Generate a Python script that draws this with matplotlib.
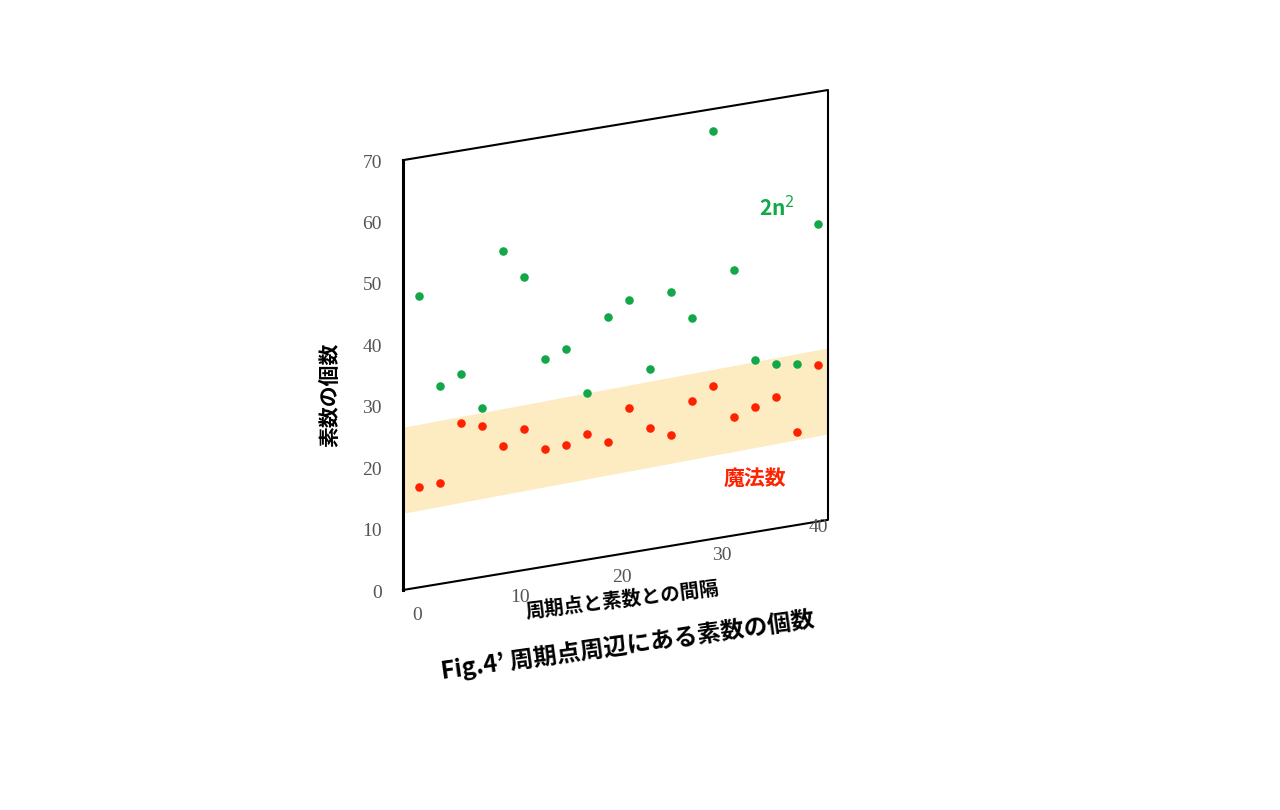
import matplotlib
matplotlib.use("Agg")
import matplotlib.pyplot as plt
from matplotlib.transforms import Affine2D

plt.rcParams['font.family'] = ['Noto Sans CJK JP', 'DejaVu Sans']

x = [1, 3, 5, 7, 9, 11, 13, 15, 17, 19, 21, 23, 25, 27, 29, 31, 33, 35, 37, 39]
green = [47.5, 32.3, 33.7, 27.6, 52.6, 47.8, 33.8, 34.9, 27.2, 39.0,
         41.2, 29.4, 41.3, 36.5, 66.4, 43.3, 28.0, 26.8, 26.3, 48.5]
red = [16.4, 16.5, 25.6, 24.6, 20.8, 22.9, 19.2, 19.3, 20.4, 18.6,
       23.6, 19.8, 18.0, 23.0, 24.9, 19.3, 20.4, 21.4, 15.1, 25.5]
band_x = [-0.5, 40]
band_lo = [12.5, 14.0]
band_hi = [26.5, 28.0]
xticks = [0, 10, 20, 30, 40]
yticks = [0, 10, 20, 30, 40, 50, 60, 70]
xmin, xmax, ymin, ymax = -0.5, 40, 0, 70

k = 0.282
skew = Affine2D().from_values(1, k, 0, 1, 0, 0)

fig = plt.figure(figsize=(12.8, 8.1), dpi=100)
W, H = 1280, 810
ax = fig.add_axes([403/W, (H-590)/H, 425/W, 500/H])
ax.set_axis_off()
ax.set_xlim(xmin, xmax)
ax.set_ylim(ymin + k*xmin, ymax + k*xmax)
T = skew + ax.transData

ax.fill_between(band_x, band_lo, band_hi, color='#fdebc2', lw=0, zorder=1, transform=T)
ax.scatter(x, green, s=38, color='#12a84a', zorder=3, linewidths=0, transform=T, clip_on=False)
ax.scatter(x, red, s=38, color='#ff2200', zorder=3, linewidths=0, transform=T, clip_on=False)
# frame
ax.plot([xmin, xmax, xmax, xmin], [ymin, ymin, ymax, ymax], color='black', lw=1.5,
        transform=T, clip_on=False, zorder=4)
ax.plot([xmin, xmin], [ymin, ymax], color='black', lw=2.2, transform=T,
        clip_on=False, zorder=4)

xlab_pos = [(417, 615), (520, 597), (622, 578), (722, 555), (818, 528)]
for t, (px, py) in zip(xticks, xlab_pos):
    fig.text(px/W, 1-py/H, str(t), ha='center', va='center', fontsize=14,
             color='#555555', family='Liberation Serif')
for t in yticks:
    py = 593 - t*6.14
    fig.text(382/W, 1-py/H, str(t), ha='right', va='center', fontsize=14,
             color='#555555', family='Liberation Serif')

fig.text(330/W, 1-395/H, '素数の個数', rotation=90, ha='center', va='center',
         fontsize=15, fontweight='bold')
fig.text(622/W, 1-600/H, '周期点と素数との間隔', rotation=7, ha='center', va='center',
         fontsize=14, fontweight='bold')
fig.text(628/W, 1-645/H, 'Fig.4’ 周期点周辺にある素数の個数', rotation=8, ha='center',
         va='center', fontsize=17, fontweight='bold')
fig.text(777/W, 1-208/H, '2n$^2$', ha='center', va='center', fontsize=15,
         fontweight='bold', color='#12a84a')
fig.text(755/W, 1-478/H, '魔法数', ha='center', va='center', fontsize=15,
         fontweight='bold', color='#ff2200')

fig.savefig('out.png', dpi=100)
